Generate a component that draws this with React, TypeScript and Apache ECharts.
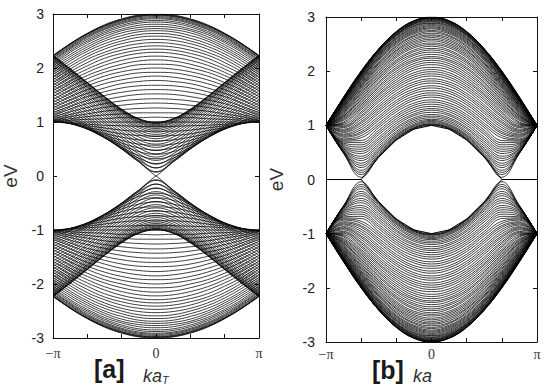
import React, { useEffect, useRef } from 'react';
import * as echarts from 'echarts';

// k samples (k >= 0 half, in units of pi/6); the k < 0 half is the mirror image
const K_STEPS = [0, 1, 2, 3, 4, 5, 6];
const Y_TICKS = [-3, -2, -1, 0, 1, 2, 3];
const X_TICK_LABELS: Record<string, string> = { '-6': '\u2212\u03c0', '0': '0', '6': '\u03c0' };

// [a] armchair ribbon: upper (conduction) bands, energy in eV at K_STEPS
const ARMCHAIR_BANDS: number[][] = [
  [2.99, 2.97, 2.90, 2.79, 2.64, 2.45, 2.23],
  [2.97, 2.95, 2.88, 2.77, 2.62, 2.43, 2.21],
  [2.93, 2.91, 2.84, 2.73, 2.58, 2.39, 2.18],
  [2.88, 2.86, 2.79, 2.68, 2.53, 2.35, 2.13],
  [2.81, 2.79, 2.72, 2.62, 2.47, 2.29, 2.07],
  [2.73, 2.71, 2.65, 2.54, 2.39, 2.21, 2.00],
  [2.64, 2.62, 2.55, 2.45, 2.31, 2.13, 1.92],
  [2.53, 2.51, 2.45, 2.35, 2.21, 2.03, 1.83],
  [2.41, 2.39, 2.33, 2.24, 2.10, 1.93, 1.73],
  [2.29, 2.27, 2.21, 2.11, 1.98, 1.82, 1.63],
  [2.15, 2.13, 2.07, 1.98, 1.86, 1.71, 1.52],
  [2.00, 1.98, 1.93, 1.85, 1.73, 1.59, 1.41],
  [1.85, 1.83, 1.78, 1.71, 1.60, 1.47, 1.31],
  [1.68, 1.67, 1.63, 1.56, 1.47, 1.35, 1.21],
  [1.52, 1.51, 1.47, 1.41, 1.34, 1.24, 1.13],
  [1.35, 1.34, 1.31, 1.27, 1.21, 1.14, 1.06],
  [1.17, 1.17, 1.15, 1.13, 1.10, 1.06, 1.02],
  [1.00, 1.00, 1.00, 1.00, 1.00, 1.00, 1.00],
  [0.83, 0.83, 0.85, 0.89, 0.93, 0.97, 1.02],
  [0.65, 0.67, 0.72, 0.79, 0.88, 0.97, 1.06],
  [0.48, 0.52, 0.61, 0.73, 0.87, 1.00, 1.13],
  [0.32, 0.38, 0.53, 0.71, 0.89, 1.06, 1.21],
  [0.15, 0.29, 0.50, 0.72, 0.93, 1.13, 1.31],
  [0.00, 0.26, 0.52, 0.77, 1.00, 1.22, 1.41],
  [0.15, 0.32, 0.57, 0.83, 1.08, 1.31, 1.52],
  [0.29, 0.41, 0.65, 0.91, 1.17, 1.41, 1.63],
  [0.41, 0.52, 0.74, 1.00, 1.26, 1.51, 1.73],
  [0.53, 0.62, 0.83, 1.09, 1.35, 1.60, 1.83],
  [0.64, 0.72, 0.92, 1.17, 1.43, 1.68, 1.92],
  [0.73, 0.81, 1.00, 1.25, 1.51, 1.76, 2.00],
  [0.81, 0.89, 1.07, 1.31, 1.57, 1.83, 2.07],
  [0.88, 0.95, 1.13, 1.37, 1.63, 1.89, 2.13],
  [0.93, 1.00, 1.18, 1.41, 1.67, 1.93, 2.18],
  [0.97, 1.04, 1.21, 1.45, 1.71, 1.96, 2.21],
  [0.99, 1.06, 1.23, 1.47, 1.73, 1.98, 2.23],
];
const ARMCHAIR_LINEAR_BAND = 23; // the band that crosses at E = 0

// [a] the bands lying between the ones above
const ARMCHAIR_BANDS_BETWEEN: number[][] = [
  [3.00, 2.98, 2.91, 2.80, 2.64, 2.45, 2.23],
  [2.98, 2.96, 2.89, 2.78, 2.63, 2.44, 2.22],
  [2.95, 2.93, 2.86, 2.75, 2.60, 2.41, 2.19],
  [2.91, 2.89, 2.82, 2.71, 2.56, 2.37, 2.15],
  [2.85, 2.83, 2.76, 2.65, 2.50, 2.32, 2.10],
  [2.77, 2.75, 2.69, 2.58, 2.43, 2.25, 2.04],
  [2.69, 2.67, 2.60, 2.50, 2.35, 2.17, 1.96],
  [2.59, 2.57, 2.50, 2.40, 2.26, 2.08, 1.88],
  [2.47, 2.45, 2.39, 2.29, 2.16, 1.98, 1.78],
  [2.35, 2.33, 2.27, 2.18, 2.04, 1.88, 1.68],
  [2.22, 2.20, 2.14, 2.05, 1.92, 1.76, 1.58],
  [2.07, 2.06, 2.00, 1.92, 1.80, 1.65, 1.47],
  [1.92, 1.91, 1.86, 1.78, 1.67, 1.53, 1.36],
  [1.77, 1.75, 1.71, 1.63, 1.53, 1.41, 1.26],
  [1.60, 1.59, 1.55, 1.49, 1.40, 1.29, 1.17],
  [1.43, 1.42, 1.39, 1.34, 1.27, 1.19, 1.09],
  [1.26, 1.25, 1.23, 1.20, 1.15, 1.10, 1.03],
  [1.09, 1.08, 1.08, 1.06, 1.05, 1.03, 1.00],
  [0.91, 0.92, 0.93, 0.94, 0.96, 0.98, 1.00],
  [0.74, 0.75, 0.78, 0.84, 0.90, 0.97, 1.03],
  [0.57, 0.59, 0.66, 0.76, 0.87, 0.98, 1.09],
  [0.40, 0.45, 0.57, 0.71, 0.87, 1.02, 1.17],
  [0.23, 0.33, 0.51, 0.71, 0.91, 1.09, 1.26],
  [0.08, 0.26, 0.50, 0.74, 0.96, 1.17, 1.36],
  [0.07, 0.28, 0.54, 0.80, 1.04, 1.26, 1.47],
  [0.22, 0.36, 0.61, 0.87, 1.12, 1.36, 1.58],
  [0.35, 0.46, 0.70, 0.96, 1.21, 1.46, 1.68],
  [0.47, 0.57, 0.79, 1.04, 1.30, 1.55, 1.78],
  [0.59, 0.67, 0.88, 1.13, 1.39, 1.64, 1.88],
  [0.69, 0.77, 0.96, 1.21, 1.47, 1.72, 1.96],
  [0.77, 0.85, 1.04, 1.28, 1.54, 1.80, 2.04],
  [0.85, 0.92, 1.10, 1.34, 1.60, 1.86, 2.10],
  [0.91, 0.98, 1.16, 1.39, 1.65, 1.91, 2.15],
  [0.95, 1.02, 1.20, 1.43, 1.69, 1.95, 2.19],
  [0.98, 1.05, 1.22, 1.46, 1.72, 1.98, 2.22],
  [1.00, 1.06, 1.24, 1.47, 1.73, 1.99, 2.23],
];

// [b] zigzag ribbon: upper bulk bands, energy in eV at K_STEPS
const ZIGZAG_BANDS: number[][] = [
  [3.00, 2.93, 2.73, 2.41, 2.00, 1.52, 1.00],
  [2.99, 2.92, 2.72, 2.41, 1.99, 1.51, 1.00],
  [2.98, 2.91, 2.71, 2.39, 1.98, 1.51, 1.00],
  [2.96, 2.89, 2.69, 2.38, 1.97, 1.50, 1.00],
  [2.94, 2.87, 2.67, 2.36, 1.95, 1.49, 1.00],
  [2.91, 2.84, 2.65, 2.33, 1.93, 1.47, 1.00],
  [2.88, 2.81, 2.61, 2.31, 1.91, 1.45, 1.00],
  [2.84, 2.77, 2.58, 2.27, 1.88, 1.44, 1.00],
  [2.80, 2.73, 2.54, 2.24, 1.85, 1.41, 1.00],
  [2.75, 2.69, 2.50, 2.20, 1.81, 1.39, 1.00],
  [2.70, 2.64, 2.45, 2.15, 1.77, 1.36, 1.00],
  [2.65, 2.58, 2.39, 2.10, 1.73, 1.34, 1.00],
  [2.59, 2.52, 2.34, 2.05, 1.69, 1.31, 1.00],
  [2.52, 2.46, 2.28, 1.99, 1.64, 1.27, 1.00],
  [2.46, 2.39, 2.21, 1.93, 1.59, 1.24, 1.00],
  [2.39, 2.32, 2.15, 1.87, 1.53, 1.20, 1.00],
  [2.31, 2.25, 2.07, 1.80, 1.47, 1.17, 1.00],
  [2.24, 2.18, 2.00, 1.73, 1.41, 1.13, 1.00],
  [2.16, 2.10, 1.92, 1.66, 1.35, 1.09, 1.00],
  [2.07, 2.02, 1.84, 1.58, 1.29, 1.04, 1.00],
  [1.99, 1.93, 1.76, 1.51, 1.22, 1.00, 1.00],
  [1.91, 1.85, 1.68, 1.43, 1.15, 0.96, 1.00],
  [1.82, 1.76, 1.59, 1.34, 1.07, 0.91, 1.00],
  [1.73, 1.67, 1.51, 1.26, 1.00, 0.87, 1.00],
  [1.64, 1.59, 1.42, 1.17, 0.92, 0.82, 1.00],
  [1.56, 1.50, 1.33, 1.09, 0.85, 0.78, 1.00],
  [1.47, 1.41, 1.25, 1.00, 0.77, 0.73, 1.00],
  [1.39, 1.33, 1.16, 0.91, 0.68, 0.69, 1.00],
  [1.31, 1.25, 1.08, 0.83, 0.60, 0.65, 1.00],
  [1.24, 1.18, 1.00, 0.74, 0.52, 0.61, 1.00],
  [1.17, 1.11, 0.93, 0.66, 0.43, 0.57, 1.00],
  [1.11, 1.05, 0.86, 0.58, 0.35, 0.54, 1.00],
  [1.07, 1.00, 0.81, 0.52, 0.26, 0.52, 1.00],
  [1.03, 0.96, 0.77, 0.46, 0.17, 0.50, 1.00],
  [1.01, 0.94, 0.74, 0.43, 0.09, 0.49, 1.00],
];

// [b] the bulk bands lying between the ones above
const ZIGZAG_BANDS_BETWEEN: number[][] = [
  [3.00, 2.93, 2.73, 2.41, 2.00, 1.52, 1.00],
  [2.99, 2.93, 2.73, 2.41, 2.00, 1.51, 1.00],
  [2.98, 2.92, 2.72, 2.40, 1.99, 1.51, 1.00],
  [2.97, 2.90, 2.70, 2.39, 1.98, 1.50, 1.00],
  [2.95, 2.88, 2.68, 2.37, 1.96, 1.49, 1.00],
  [2.92, 2.86, 2.66, 2.35, 1.94, 1.48, 1.00],
  [2.89, 2.83, 2.63, 2.32, 1.92, 1.46, 1.00],
  [2.86, 2.79, 2.60, 2.29, 1.89, 1.45, 1.00],
  [2.82, 2.75, 2.56, 2.26, 1.86, 1.43, 1.00],
  [2.78, 2.71, 2.52, 2.22, 1.83, 1.40, 1.00],
  [2.73, 2.66, 2.47, 2.17, 1.79, 1.38, 1.00],
  [2.67, 2.61, 2.42, 2.13, 1.75, 1.35, 1.00],
  [2.62, 2.55, 2.37, 2.08, 1.71, 1.32, 1.00],
  [2.56, 2.49, 2.31, 2.02, 1.66, 1.29, 1.00],
  [2.49, 2.43, 2.25, 1.96, 1.61, 1.26, 1.00],
  [2.42, 2.36, 2.18, 1.90, 1.56, 1.22, 1.00],
  [2.35, 2.29, 2.11, 1.84, 1.50, 1.18, 1.00],
  [2.27, 2.21, 2.04, 1.77, 1.44, 1.15, 1.00],
  [2.20, 2.14, 1.96, 1.70, 1.38, 1.11, 1.00],
  [2.12, 2.06, 1.88, 1.62, 1.32, 1.06, 1.00],
  [2.03, 1.97, 1.80, 1.55, 1.25, 1.02, 1.00],
  [1.95, 1.89, 1.72, 1.47, 1.18, 0.98, 1.00],
  [1.86, 1.80, 1.64, 1.38, 1.11, 0.93, 1.00],
  [1.78, 1.72, 1.55, 1.30, 1.04, 0.89, 1.00],
  [1.69, 1.63, 1.46, 1.22, 0.96, 0.84, 1.00],
  [1.60, 1.54, 1.38, 1.13, 0.88, 0.80, 1.00],
  [1.52, 1.46, 1.29, 1.04, 0.81, 0.75, 1.00],
  [1.43, 1.37, 1.20, 0.96, 0.72, 0.71, 1.00],
  [1.35, 1.29, 1.12, 0.87, 0.64, 0.67, 1.00],
  [1.28, 1.21, 1.04, 0.78, 0.56, 0.63, 1.00],
  [1.20, 1.14, 0.96, 0.70, 0.48, 0.59, 1.00],
  [1.14, 1.08, 0.89, 0.62, 0.39, 0.56, 1.00],
  [1.09, 1.02, 0.83, 0.55, 0.30, 0.53, 1.00],
  [1.05, 0.98, 0.79, 0.49, 0.22, 0.51, 1.00],
  [1.02, 0.95, 0.75, 0.44, 0.13, 0.49, 1.00],
  [1.00, 0.93, 0.73, 0.42, 0.04, 0.48, 1.00],
];
// zigzag edge-state band (flat at E = 0 for |k| >= 2pi/3)
const ZIGZAG_EDGE_BAND = [1.00, 0.93, 0.73, 0.41, 0.00, 0.00, 0.00];

const LINE_COLOR = '#000';
const LINE_WIDTH = 0.75;

function mirrored(E: number[], sign: number): number[][] {
  const pts: number[][] = [];
  for (let i = K_STEPS.length - 1; i > 0; i--) pts.push([-K_STEPS[i], sign * E[i] + 0]);
  for (let i = 0; i < K_STEPS.length; i++) pts.push([K_STEPS[i], sign * E[i] + 0]);
  return pts;
}

// upper edge band from -pi to pi, then the lower one back from pi to -pi (one closed loop)
function edgeLoop(E: number[]): number[][] {
  const upper = mirrored(E, 1);
  const lower = mirrored(E, -1).reverse().slice(1);
  return [...upper, ...lower];
}

function bandSeries(E: number[], sign: number, axisIndex: number, smooth: number, width = LINE_WIDTH) {
  return {
    type: 'line',
    xAxisIndex: axisIndex,
    yAxisIndex: axisIndex,
    data: mirrored(E, sign),
    showSymbol: false,
    symbol: 'none',
    smooth,
    lineStyle: { color: LINE_COLOR, width },
    emphasis: { disabled: true },
  };
}

function xAxes(gridIndex: number, labelMargin: number) {
  const common = {
    gridIndex,
    type: 'value',
    min: -6,
    max: 6,
    interval: 2,
    splitLine: { show: false },
    axisLine: { show: true, onZero: false, lineStyle: { color: '#111', width: 1 } },
    axisTick: { show: true, inside: true, length: 4, lineStyle: { color: '#111' } },
  };
  return [
    {
      ...common,
      position: 'bottom',
      axisLabel: {
        show: true,
        margin: labelMargin,
        fontFamily: 'Liberation Serif',
        fontSize: 14,
        color: '#333',
        formatter: (v: number) => X_TICK_LABELS[String(Math.round(v))] ?? '',
      },
    },
    { ...common, position: 'top', axisLabel: { show: false } },
  ];
}

function yAxes(gridIndex: number, labelMargin: number, nameGap: number) {
  const common = {
    gridIndex,
    type: 'value',
    min: Y_TICKS[0],
    max: Y_TICKS[Y_TICKS.length - 1],
    interval: 1,
    splitLine: { show: false },
    axisLine: { show: true, onZero: false, lineStyle: { color: '#111', width: 1 } },
    axisTick: { show: true, inside: true, length: 4, lineStyle: { color: '#111' } },
  };
  return [
    {
      ...common,
      position: 'left',
      name: 'eV',
      nameLocation: 'middle',
      nameGap,
      nameRotate: 90,
      nameTextStyle: { fontFamily: 'Liberation Sans', fontSize: 19, color: '#333' },
      axisLabel: {
        show: true,
        margin: labelMargin,
        fontFamily: 'Liberation Sans',
        fontSize: 14,
        color: '#222',
      },
    },
    { ...common, position: 'right', axisLabel: { show: false } },
  ];
}

export default function App() {
  const ref = useRef<HTMLDivElement>(null);
  useEffect(() => {
    if (!ref.current) return;
    const chart = echarts.init(ref.current, undefined, { renderer: 'svg' });
    const series: any[] = [];
    // panel [a] uses axes 0 (bottom x / left y); panel [b] uses axes 2
    ARMCHAIR_BANDS.forEach((E, i) => {
      const sm = i === ARMCHAIR_LINEAR_BAND ? 0.05 : 0.4;
      series.push(bandSeries(E, 1, 0, sm));
      series.push(bandSeries(E, -1, 0, sm));
    });
    ARMCHAIR_BANDS_BETWEEN.forEach((E) => {
      series.push(bandSeries(E, 1, 0, 0.4));
      series.push(bandSeries(E, -1, 0, 0.4));
    });
    [...ZIGZAG_BANDS, ...ZIGZAG_BANDS_BETWEEN].forEach((E) => {
      series.push(bandSeries(E, 1, 2, 0.4));
      series.push(bandSeries(E, -1, 2, 0.4));
    });
    series.push({
      type: 'line',
      xAxisIndex: 2,
      yAxisIndex: 2,
      data: edgeLoop(ZIGZAG_EDGE_BAND),
      showSymbol: false,
      symbol: 'none',
      smooth: false,
      lineStyle: { color: LINE_COLOR, width: 1 },
      emphasis: { disabled: true },
    });

    chart.setOption({
      animation: false,
      backgroundColor: '#fff',
      grid: [
        { left: 48, top: 14, width: 211, height: 324 },
        { left: 326, top: 17, width: 211, height: 325 },
      ],
      xAxis: [...xAxes(0, 8), ...xAxes(1, 5)],
      yAxis: [...yAxes(0, 9, 33), ...yAxes(1, 11, 40)],
      series,
      graphic: [
        {
          type: 'text',
          left: 94,
          top: 356,
          style: { text: '[a]', fontFamily: 'Liberation Sans', fontWeight: 'bold', fontSize: 25, fill: '#1a1a1a' },
        },
        {
          type: 'text',
          left: 143,
          top: 367,
          style: { text: 'ka', fontFamily: 'Liberation Sans', fontStyle: 'italic', fontSize: 18, fill: '#333' },
        },
        {
          type: 'text',
          left: 162,
          top: 374,
          style: { text: 'T', fontFamily: 'Liberation Sans', fontStyle: 'italic', fontSize: 11, fill: '#333' },
        },
        {
          type: 'text',
          left: 372,
          top: 357,
          style: { text: '[b]', fontFamily: 'Liberation Sans', fontWeight: 'bold', fontSize: 25, fill: '#1a1a1a' },
        },
        {
          type: 'text',
          left: 413,
          top: 367,
          style: { text: 'ka', fontFamily: 'Liberation Sans', fontStyle: 'italic', fontSize: 18, fill: '#333' },
        },
      ],
    });
    return () => chart.dispose();
  }, []);
  return (
    <div
      ref={ref}
      style={{ position: 'absolute', left: 0, top: 0, width: 550, height: 392, background: '#fff' }}
    />
  );
}
